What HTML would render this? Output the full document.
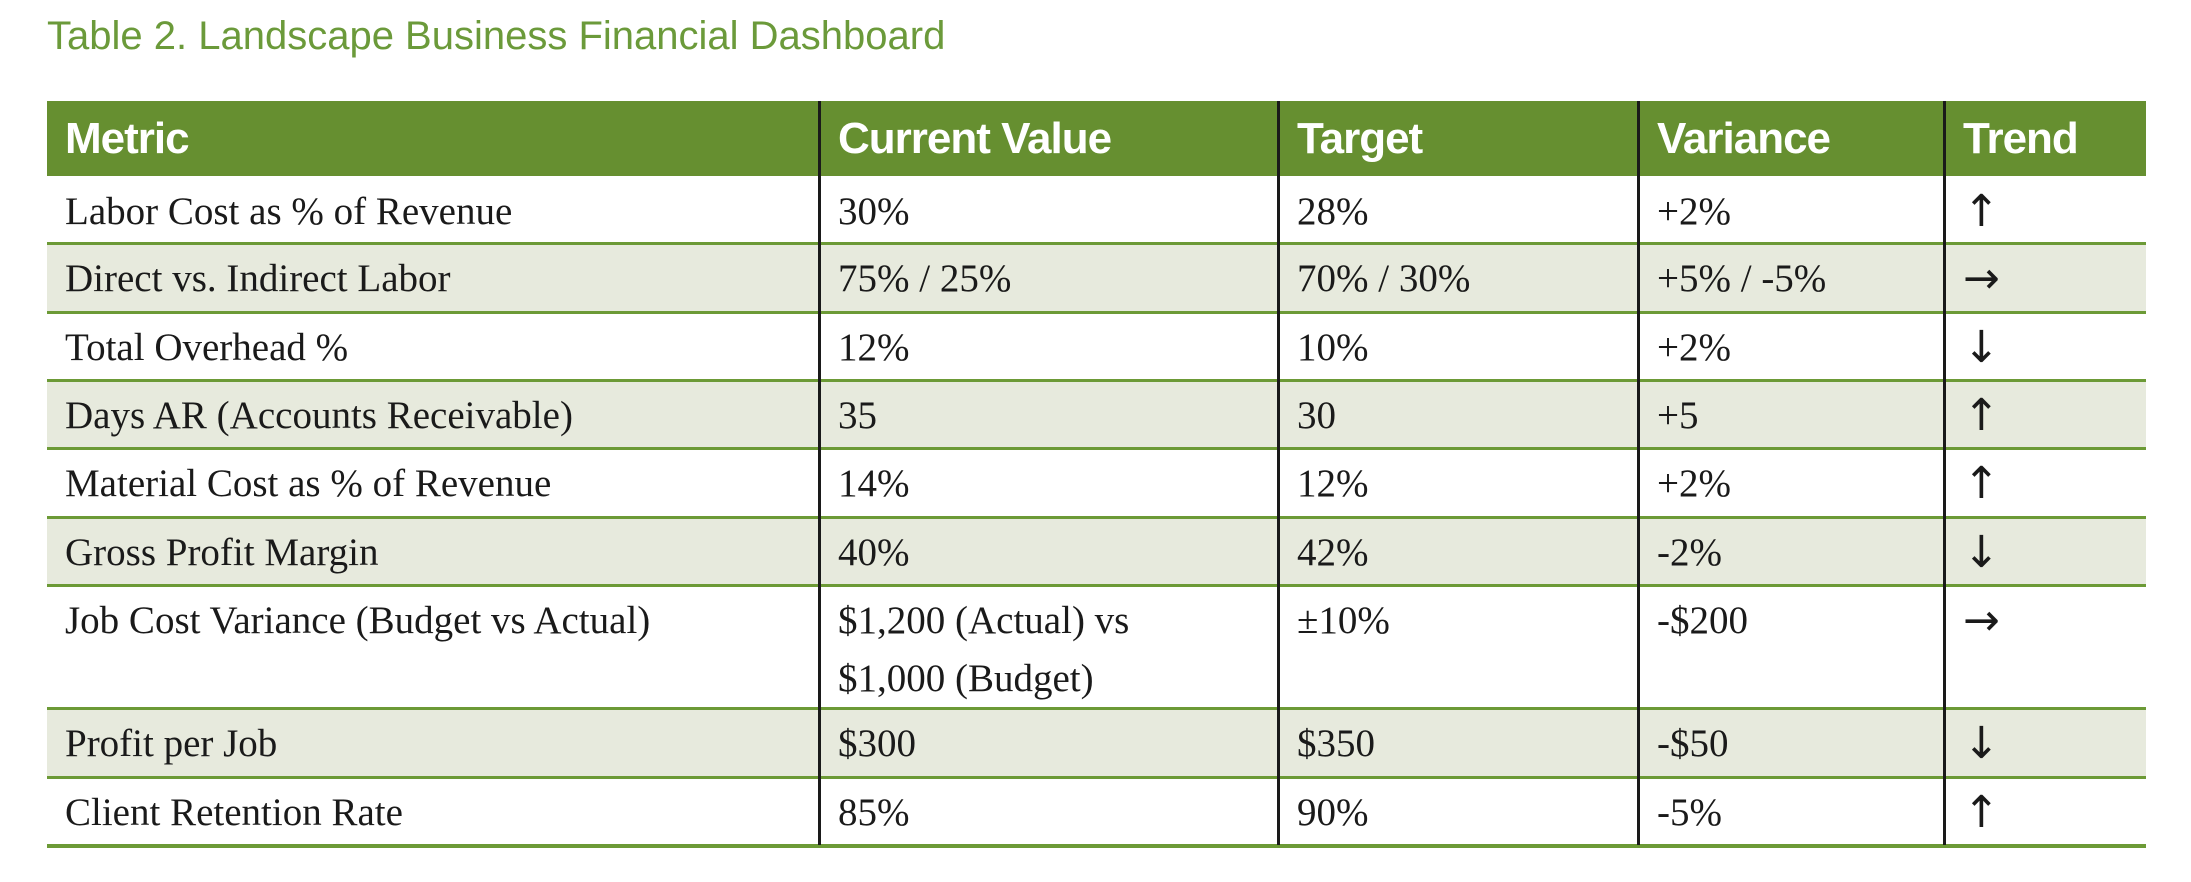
<!DOCTYPE html>
<html><head><meta charset="utf-8"><style>
body{margin:0;width:2191px;height:882px;background:#fff;position:relative;overflow:hidden}
.t{position:absolute;left:47px;top:14px;font:40px "Liberation Sans",sans-serif;color:#6b9a3a;letter-spacing:0px}
.hdr{position:absolute;left:47px;top:101px;width:2099px;height:75px;background:#668f30}
.row{position:absolute;left:47px;width:2099px}
.alt{background:#e7eadd}
.hl{position:absolute;left:47px;width:2099px;height:3px;background:#6c9a36}
.vl{position:absolute;top:101px;width:3px;height:744px;background:#1a1a1a}
.c{position:absolute;font:39px/58px "Liberation Serif","DejaVu Serif",serif;color:#1a1a1a;white-space:nowrap}
.ar{font:44px/58px "DejaVu Sans",sans-serif}
.h{position:absolute;top:101px;font:bold 44px/75px "Liberation Sans",sans-serif;color:#fff;letter-spacing:-1px}
</style></head><body>
<div class="t">Table 2. Landscape Business Financial Dashboard</div>
<div class="hdr"></div>
<div class="h" style="left:65px">Metric</div>
<div class="h" style="left:838px">Current Value</div>
<div class="h" style="left:1297px">Target</div>
<div class="h" style="left:1657px">Variance</div>
<div class="h" style="left:1963px">Trend</div>
<div id="body"></div>
<script>
const tops=[176,243,312,380,448,517,585,708,777,845];
const rows=[
["Labor Cost as % of Revenue","30%","28%","+2%","↑"],
["Direct vs. Indirect Labor","75% / 25%","70% / 30%","+5% / -5%","→"],
["Total Overhead %","12%","10%","+2%","↓"],
["Days AR (Accounts Receivable)","35","30","+5","↑"],
["Material Cost as % of Revenue","14%","12%","+2%","↑"],
["Gross Profit Margin","40%","42%","-2%","↓"],
["Job Cost Variance (Budget vs Actual)","$1,200 (Actual) vs<br>$1,000 (Budget)","±10%","-$200","→"],
["Profit per Job","$300","$350","-$50","↓"],
["Client Retention Rate","85%","90%","-5%","↑"]];
const xs=[65,838,1297,1657,1963];
const names=["metric","current-value","target","variance","trend"];
const b=document.getElementById('body');
let h='';
rows.forEach((r,i)=>{
  const t=tops[i],ht=tops[i+1]-t;
  if(i%2==1) h+=`<div class="row alt" style="top:${t}px;height:${ht}px"></div>`;
});
rows.forEach((r,i)=>{
  const t=tops[i];
  r.forEach((v,j)=>{h+=`<div class="c${j==4?' ar':''}" style="left:${xs[j]}px;top:${t+7}px">${v}</div>`;});
  h+=`<div class="hl" style="top:${tops[i+1]-1}px${i==rows.length-1?';height:4px':''}"></div>`;
});
[819,1278,1638,1944].forEach((x,k)=>{h+=`<div class="vl" style="left:${x-1}px"></div>`;});
b.innerHTML=h;
</script>
</body></html>
